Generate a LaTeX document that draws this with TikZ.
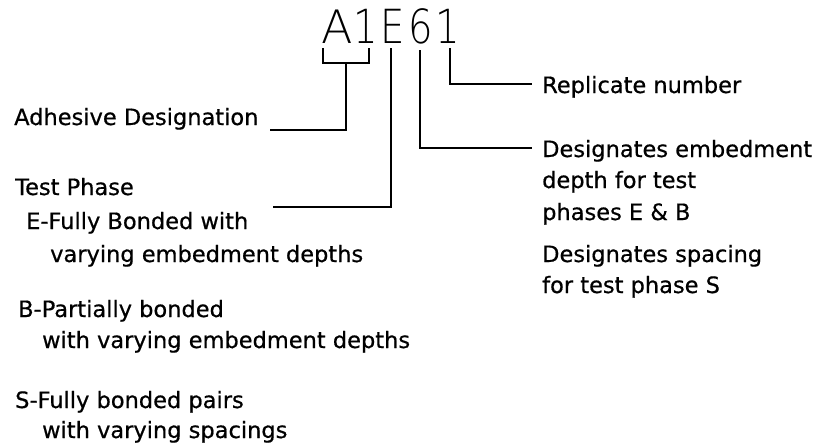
\documentclass[tikz,border=0pt]{standalone}
\usepackage{fontspec}
\setmainfont{DejaVu Sans}[BoldFont=DejaVu Sans,BoldFeatures={FakeBold=0.6}]
\newfontfamily\thinfont{DejaVu Sans ExtraLight}[FakeStretch=0.82]
\newfontfamily\thinwide{DejaVu Sans ExtraLight}
\begin{document}
\begin{tikzpicture}[x=1pt,y=-1pt,
  lbl/.style={anchor=base west,inner sep=0pt,font=\bfseries\fontsize{22.5}{27}\selectfont},
  big/.style={anchor=base,inner sep=0pt,font=\thinfont\fontsize{47}{50}\selectfont},
  bigwide/.style={anchor=base,inner sep=0pt,font=\thinwide\fontsize{46}{50}\selectfont},
  conn/.style={line width=1.8pt,line cap=butt,line join=miter}]
\useasboundingbox (0,0) rectangle (814,447);
% code letters
\node[bigwide] (cA) at (337,43) {A};
\node[big] (c1) at (366,43) {1};
\node[big] (cE) at (392.5,43) {E};
\node[big] (c6) at (421,43) {6};
\node[big] (cR) at (448,43) {1};
% left labels
\node[lbl] (adh) at (14,125) {Adhesive Designation};
\node[lbl] (tp) at (15,195) {Test Phase};
\node[lbl] (e1) at (26,229) {E-Fully Bonded with};
\node[lbl] (e2) at (50,262) {varying embedment depths};
\node[lbl] (b1) at (18,317) {B-Partially bonded};
\node[lbl] (b2) at (42,348) {with varying embedment depths};
\node[lbl] (s1) at (15,408) {S-Fully bonded pairs};
\node[lbl] (s2) at (42,438) {with varying spacings};
% right labels
\node[lbl] (rep) at (542,93) {Replicate number};
\node[lbl] (d1) at (542,157) {Designates embedment};
\node[lbl] (d2) at (542,188) {depth for test};
\node[lbl] (d3) at (542,220) {phases E \& B};
\node[lbl] (sp1) at (542,262) {Designates spacing};
\node[lbl] (sp2) at (542,293) {for test phase S};
% connector coordinates
\coordinate (brL) at (322.7,48);
\coordinate (brR) at (369,48);
\coordinate (brM) at (346,63);
\coordinate (adhEnd) at (270,130);
\coordinate (tpEnd) at (273,207);
\coordinate (eTop) at (391,48);
\coordinate (sTop) at (420,50);
\coordinate (rTop) at (450,48);
\coordinate (dEnd) at (532,148);
\coordinate (repEnd) at (532,84);
% connectors
\draw[conn] (brL) |- (brM) -| (brR);
\draw[conn] (adhEnd) -| (brM);
\draw[conn] (tpEnd) -| (eTop);
\draw[conn] (sTop) |- (dEnd);
\draw[conn] (rTop) |- (repEnd);
\end{tikzpicture}
\end{document}
